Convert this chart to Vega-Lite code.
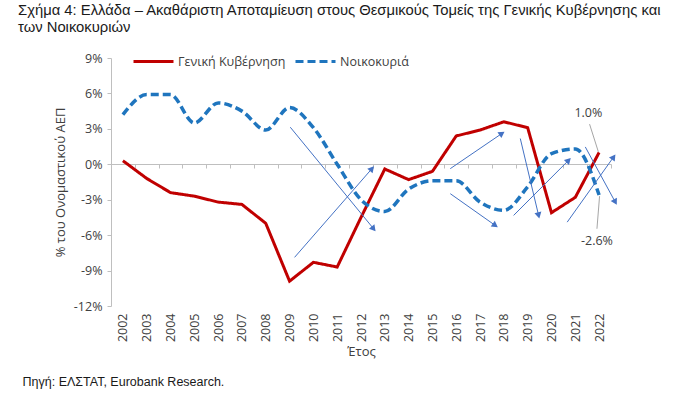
{
  "$schema": "https://vega.github.io/schema/vega-lite/v6.json",
  "width": 500,
  "height": 248,
  "autosize": {"type": "none"},
  "padding": {"left": 111, "top": 58, "right": 89, "bottom": 88},
  "background": "white",
  "config": {"view": {"stroke": null}, "font": "Open Sans"},
  "title": {
    "text": ["Σχήμα 4: Ελλάδα – Ακαθάριστη Αποταμίευση στους Θεσμικούς Τομείς της Γενικής Κυβέρνησης και", "των Νοικοκυριών"],
    "anchor": "start",
    "frame": "group",
    "dx": -93,
    "offset": 5,
    "font": "Liberation Sans",
    "fontSize": 14.8,
    "fontWeight": "normal",
    "color": "#1a1a1a",
    "lineHeight": 17
  },
  "datasets": {
    "series": [
      {"year": 2002, "series": "Γενική Κυβέρνηση", "value": 0.3},
      {"year": 2003, "series": "Γενική Κυβέρνηση", "value": -1.2},
      {"year": 2004, "series": "Γενική Κυβέρνηση", "value": -2.4},
      {"year": 2005, "series": "Γενική Κυβέρνηση", "value": -2.7},
      {"year": 2006, "series": "Γενική Κυβέρνηση", "value": -3.2},
      {"year": 2007, "series": "Γενική Κυβέρνηση", "value": -3.4},
      {"year": 2008, "series": "Γενική Κυβέρνηση", "value": -5.0},
      {"year": 2009, "series": "Γενική Κυβέρνηση", "value": -9.9},
      {"year": 2010, "series": "Γενική Κυβέρνηση", "value": -8.3},
      {"year": 2011, "series": "Γενική Κυβέρνηση", "value": -8.7},
      {"year": 2012, "series": "Γενική Κυβέρνηση", "value": -4.5},
      {"year": 2013, "series": "Γενική Κυβέρνηση", "value": -0.4},
      {"year": 2014, "series": "Γενική Κυβέρνηση", "value": -1.3},
      {"year": 2015, "series": "Γενική Κυβέρνηση", "value": -0.6},
      {"year": 2016, "series": "Γενική Κυβέρνηση", "value": 2.4},
      {"year": 2017, "series": "Γενική Κυβέρνηση", "value": 2.9},
      {"year": 2018, "series": "Γενική Κυβέρνηση", "value": 3.6},
      {"year": 2019, "series": "Γενική Κυβέρνηση", "value": 3.1},
      {"year": 2020, "series": "Γενική Κυβέρνηση", "value": -4.1},
      {"year": 2021, "series": "Γενική Κυβέρνηση", "value": -2.8},
      {"year": 2022, "series": "Γενική Κυβέρνηση", "value": 1.0},
      {"year": 2002, "series": "Νοικοκυριά", "value": 4.2},
      {"year": 2003, "series": "Νοικοκυριά", "value": 5.9},
      {"year": 2004, "series": "Νοικοκυριά", "value": 5.9},
      {"year": 2005, "series": "Νοικοκυριά", "value": 3.5},
      {"year": 2006, "series": "Νοικοκυριά", "value": 5.2},
      {"year": 2007, "series": "Νοικοκυριά", "value": 4.5},
      {"year": 2008, "series": "Νοικοκυριά", "value": 2.9},
      {"year": 2009, "series": "Νοικοκυριά", "value": 4.8},
      {"year": 2010, "series": "Νοικοκυριά", "value": 3.1},
      {"year": 2011, "series": "Νοικοκυριά", "value": 0.0},
      {"year": 2012, "series": "Νοικοκυριά", "value": -3.0},
      {"year": 2013, "series": "Νοικοκυριά", "value": -4.0},
      {"year": 2014, "series": "Νοικοκυριά", "value": -2.1},
      {"year": 2015, "series": "Νοικοκυριά", "value": -1.4},
      {"year": 2016, "series": "Νοικοκυριά", "value": -1.4},
      {"year": 2017, "series": "Νοικοκυριά", "value": -3.2},
      {"year": 2018, "series": "Νοικοκυριά", "value": -3.9},
      {"year": 2019, "series": "Νοικοκυριά", "value": -1.9},
      {"year": 2020, "series": "Νοικοκυριά", "value": 0.9},
      {"year": 2021, "series": "Νοικοκυριά", "value": 1.3},
      {"year": 2022, "series": "Νοικοκυριά", "value": -2.6}
    ],
    "arrows": [
      {"x1": 2009.03, "y1": 3.14, "x2": 2012.53, "y2": -5.46},
      {"x1": 2009.21, "y1": -7.88, "x2": 2012.46, "y2": -0.37},
      {"x1": 2015.75, "y1": -0.37, "x2": 2017.92, "y2": 2.61},
      {"x1": 2015.75, "y1": -2.49, "x2": 2017.64, "y2": -5.18},
      {"x1": 2018.69, "y1": 2.18, "x2": 2019.46, "y2": -4.33},
      {"x1": 2018.41, "y1": -4.33, "x2": 2020.72, "y2": 0.34},
      {"x1": 2020.66, "y1": -4.9, "x2": 2022.61, "y2": 0.62},
      {"x1": 2021.42, "y1": 1.47, "x2": 2022.68, "y2": -3.2}
    ],
    "leaders": [
      {"x1": 2021.6, "y1": 3.4, "x2": 2021.97, "y2": 1.05},
      {"x1": 2021.91, "y1": -5.46, "x2": 2022.02, "y2": -2.7}
    ],
    "labels": [
      {"year": 2021.55, "value": 4.33, "text": "1.0%"},
      {"year": 2021.91, "value": -6.46, "text": "-2.6%"}
    ]
  },
  "layer": [
    {
      "data": {"name": "series"},
      "transform": [{"filter": "datum.series === 'Γενική Κυβέρνηση'"}],
      "mark": {"type": "line", "strokeWidth": 3, "interpolate": "linear"},
      "encoding": {
        "x": {
          "field": "year", "type": "quantitative",
          "scale": {"domain": [2001.5, 2022.5], "nice": false, "zero": false},
          "axis": {
            "orient": "bottom",
            "values": [2002, 2003, 2004, 2005, 2006, 2007, 2008, 2009, 2010, 2011, 2012, 2013, 2014, 2015, 2016, 2017, 2018, 2019, 2020, 2021, 2022],
            "format": "d", "labelAngle": -90, "labelAlign": "right", "labelBaseline": "middle",
            "domain": false, "ticks": false, "grid": false,
            "labelPadding": 7, "labelFontSize": 12.5, "labelColor": "#404040", "labelFlush": false,
            "title": "Έτος", "titleFontSize": 13, "titleFontWeight": "normal", "titleColor": "#404040", "titlePadding": 4
          }
        },
        "y": {
          "field": "value", "type": "quantitative",
          "scale": {"domain": [-12, 9], "nice": false, "zero": false},
          "axis": {
            "orient": "left",
            "values": [-12, -9, -6, -3, 0, 3, 6, 9],
            "labelExpr": "datum.value + '%'",
            "domain": true, "domainColor": "#bfbfbf", "ticks": true, "tickColor": "#bfbfbf", "tickSize": 4,
            "grid": false, "labelPadding": 5, "labelFontSize": 12.5, "labelColor": "#404040",
            "title": "% του Ονομαστικού ΑΕΠ", "titleFontSize": 13, "titleFontWeight": "normal", "titleColor": "#404040", "titlePadding": 6
          }
        },
        "color": {
          "field": "series", "type": "nominal",
          "scale": {"domain": ["Γενική Κυβέρνηση", "Νοικοκυριά"], "range": ["#C00000", "#1F75BE"]},
          "legend": {
            "orient": "none", "legendX": 21, "legendY": -18, "direction": "horizontal", "title": null,
            "symbolType": "stroke", "symbolSize": 1600, "symbolStrokeWidth": 3,
            "labelFontSize": 12.5, "labelColor": "#404040", "columnPadding": 3, "labelOffset": 3
          }
        },
        "strokeDash": {
          "field": "series", "type": "nominal",
          "scale": {"domain": ["Γενική Κυβέρνηση", "Νοικοκυριά"], "range": [[1, 0], [8, 4]]}
        }
      }
    },
    {
      "data": {"name": "series"},
      "transform": [{"filter": "datum.series === 'Νοικοκυριά'"}],
      "mark": {"type": "line", "strokeWidth": 3.5, "interpolate": "monotone"},
      "encoding": {
        "x": {
          "field": "year", "type": "quantitative",
          "scale": {"domain": [2001.5, 2022.5], "nice": false, "zero": false},
          "axis": {
            "orient": "bottom",
            "values": [2001.5, 2002.5, 2003.5, 2004.5, 2005.5, 2006.5, 2007.5, 2008.5, 2009.5, 2010.5, 2011.5, 2012.5, 2013.5, 2014.5, 2015.5, 2016.5, 2017.5, 2018.5, 2019.5, 2020.5, 2021.5, 2022.5],
            "labels": false, "domain": true, "domainColor": "#bfbfbf", "ticks": true, "tickColor": "#bfbfbf", "tickSize": 4,
            "grid": false, "offset": -142, "title": null
          }
        },
        "y": {"field": "value", "type": "quantitative", "scale": {"domain": [-12, 9], "nice": false, "zero": false}, "axis": null},
        "color": {
          "field": "series", "type": "nominal",
          "scale": {"domain": ["Γενική Κυβέρνηση", "Νοικοκυριά"], "range": ["#C00000", "#1F75BE"]}
        },
        "strokeDash": {
          "field": "series", "type": "nominal",
          "scale": {"domain": ["Γενική Κυβέρνηση", "Νοικοκυριά"], "range": [[1, 0], [8, 4]]}
        }
      }
    },
    {
      "data": {"name": "arrows"},
      "mark": {"type": "rule", "color": "#4472C4", "strokeWidth": 1},
      "encoding": {
        "x": {
          "field": "x1", "type": "quantitative",
          "scale": {"domain": [2001.5, 2022.5], "nice": false, "zero": false},
          "axis": {
            "orient": "bottom",
            "labels": false, "domain": false, "ticks": false, "grid": false,
            "title": "Πηγή: ΕΛΣΤΑΤ, Eurobank Research.", "titleX": -89, "titleY": 79,
            "titleAlign": "left", "titleAnchor": "start", "titleBaseline": "alphabetic",
            "titleFont": "Liberation Sans", "titleFontSize": 12.5, "titleFontWeight": "normal", "titleColor": "#1a1a1a"
          }
        },
        "x2": {"field": "x2"},
        "y": {"field": "y1", "type": "quantitative", "scale": {"domain": [-12, 9], "nice": false, "zero": false}, "axis": null},
        "y2": {"field": "y2"}
      }
    },
    {
      "data": {"name": "arrows"},
      "transform": [{"calculate": "atan2((datum.x2 - datum.x1) * 23.81, (datum.y2 - datum.y1) * 11.81) * 180 / PI", "as": "ang"}],
      "mark": {"type": "point", "shape": "triangle-up", "filled": true, "color": "#4472C4", "opacity": 1, "size": 50},
      "encoding": {
        "x": {"field": "x2", "type": "quantitative", "scale": {"domain": [2001.5, 2022.5], "nice": false, "zero": false}, "axis": null},
        "y": {"field": "y2", "type": "quantitative", "scale": {"domain": [-12, 9], "nice": false, "zero": false}, "axis": null},
        "angle": {"field": "ang", "type": "quantitative", "scale": null}
      }
    },
    {
      "data": {"name": "leaders"},
      "mark": {"type": "rule", "color": "#a6a6a6", "strokeWidth": 1},
      "encoding": {
        "x": {"field": "x1", "type": "quantitative", "scale": {"domain": [2001.5, 2022.5], "nice": false, "zero": false}, "axis": null},
        "x2": {"field": "x2"},
        "y": {"field": "y1", "type": "quantitative", "scale": {"domain": [-12, 9], "nice": false, "zero": false}, "axis": null},
        "y2": {"field": "y2"}
      }
    },
    {
      "data": {"name": "labels"},
      "mark": {"type": "text", "fontSize": 12.5, "color": "#404040", "align": "center", "baseline": "middle"},
      "encoding": {
        "x": {"field": "year", "type": "quantitative", "scale": {"domain": [2001.5, 2022.5], "nice": false, "zero": false}, "axis": null},
        "y": {"field": "value", "type": "quantitative", "scale": {"domain": [-12, 9], "nice": false, "zero": false}, "axis": null},
        "text": {"field": "text"}
      }
    }
  ],
  "resolve": {"axis": {"x": "independent", "y": "independent"}}
}
